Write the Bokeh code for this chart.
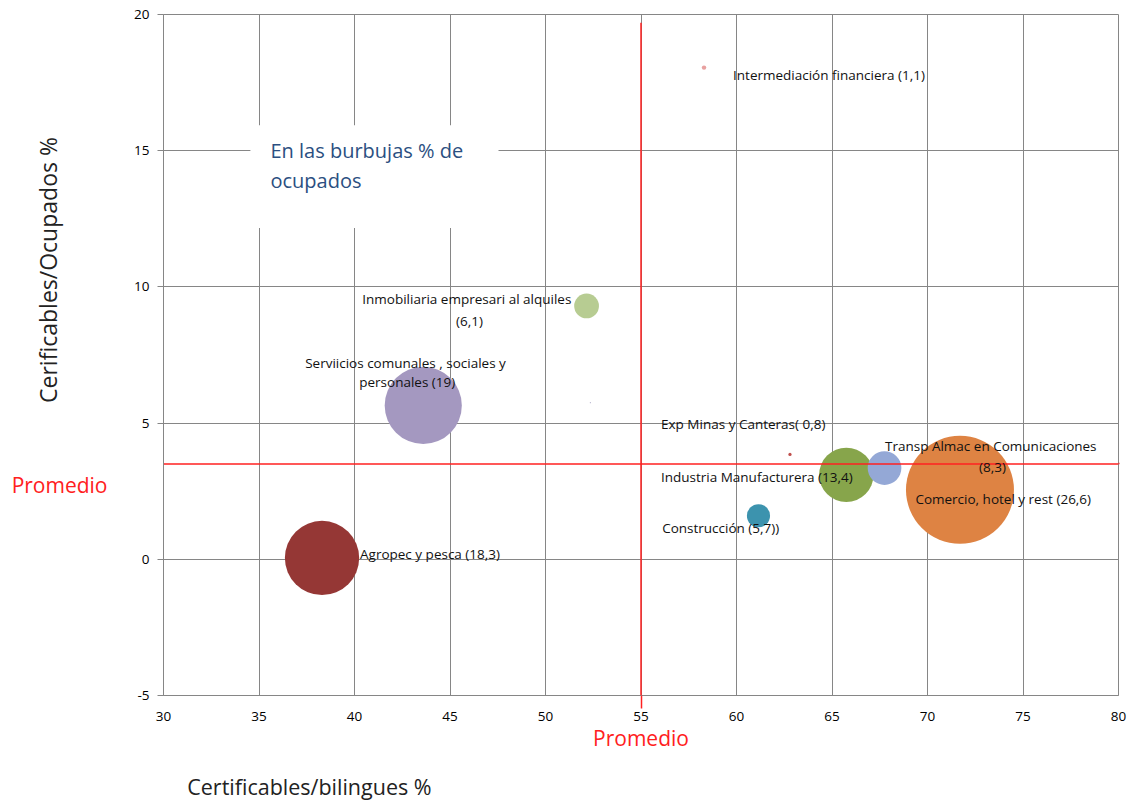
import math
from bokeh.plotting import figure
from bokeh.models import (ColumnDataSource, Label, BoxAnnotation, SingleIntervalTicker,
                          FixedTicker, LinearAxis)
from bokeh.core.properties import value
from bokeh.embed import file_html
from bokeh.resources import INLINE

# ---- data ----
sectors = ["Agropec y pesca", "Servicios comunales", "Inmobiliaria", "(sin etiqueta)",
           "Intermediación financiera", "Exp Minas y Canteras", "Industria Manufacturera",
           "Transp Almac en Comunicaciones", "Comercio, hotel y rest", "Construcción"]
cert_bilingues = [38.3, 43.6, 52.15, 52.35, 58.3, 62.8, 65.75, 67.75, 71.7, 61.15]
cert_ocupados = [0.05, 5.65, 9.3, 5.75, 18.05, 3.85, 3.1, 3.35, 2.55, 1.6]
pct_ocupados = [18.3, 19.0, 6.1, 0.3, 1.1, 0.8, 13.4, 8.3, 26.6, 5.7]
colors = ["#953735", "#A498C0", "#B7CC92", "#B4B2CC", "#E8A1A0", "#C0504D",
          "#87A54B", "#94A8D6", "#DE8343", "#3C93AE"]

promedio_x = 55
promedio_y = 3.5

x_title = "Certificables/bilingues %"
y_title = "Cerificables/Ocupados %"
promedio_text = "Promedio"
box_lines = ["En las burbujas % de", "ocupados"]

# label lines: (sector index, text, dx, dy, align)
label_lines = [
    (0, "Agropec y pesca (18,3)", 38, -4, "left"),
    (1, "Serviicios comunales  , sociales y", -16, -42, "center"),
    (1, "personales (19)", -16, -23, "center"),
    (2, "Inmobiliaria  empresari al alquiles", -118, -7, "center"),
    (2, "(6,1)", -117, 15, "center"),
    (4, "Intermediación  financiera (1,1)", 29, 7, "left"),
    (5, "Exp  Minas y Canteras( 0,8)", -45, -30, "center"),
    (6, "Industria   Manufacturera (13,4)", -86, 2, "center"),
    (7, "Transp  Almac en Comunicaciones", 108, -22, "center"),
    (7, "(8,3)", 108, -1, "center"),
    (8, "Comercio,  hotel y rest (26,6)", 45, 9, "center"),
    (9, "Construcción  (5,7))", -36, 12, "center"),
]

FONT = "Open Sans"
RED = "#FF2020"
GRAY = "#868686"
PX_PER_UNIT = 4.06  # bubble diameter in px per % ocupados

p = figure(width=1130, height=803, x_range=(30, 80), y_range=(-5, 20),
           output_backend="svg", toolbar_location=None,
           min_border_left=163, min_border_right=12, min_border_top=14, min_border_bottom=107)
p.background_fill_color = "white"
p.border_fill_color = "white"
p.outline_line_color = GRAY
p.outline_line_width = 1

for ax in (p.xaxis[0], p.yaxis[0]):
    ax.axis_line_color = GRAY
    ax.major_tick_line_color = GRAY
    ax.minor_tick_line_color = None
    ax.major_tick_in = 0
    ax.major_label_text_font = FONT
    ax.major_label_text_font_size = "13.5px"
    ax.major_label_text_color = "#000000"
p.xaxis[0].ticker = SingleIntervalTicker(interval=5)
p.yaxis[0].ticker = SingleIntervalTicker(interval=5)
p.yaxis[0].major_label_overrides = {-5: "-5"}
p.xaxis[0].major_tick_out = 0
p.xaxis[0].major_label_standoff = 12
p.yaxis[0].major_tick_out = 6
p.yaxis[0].major_label_standoff = 8

for g in (p.xgrid[0], p.ygrid[0]):
    g.grid_line_color = GRAY
    g.grid_line_width = 1
p.xgrid[0].ticker = SingleIntervalTicker(interval=5)
p.ygrid[0].ticker = SingleIntervalTicker(interval=5)


def bare_axis(ticks, overrides, size, color, standoff, orientation="horizontal"):
    ax = LinearAxis(ticker=FixedTicker(ticks=ticks), major_label_overrides=overrides)
    ax.axis_line_color = None
    ax.major_tick_line_color = None
    ax.minor_tick_line_color = None
    ax.major_tick_in = 0
    ax.major_tick_out = 0
    ax.major_label_text_font = FONT
    ax.major_label_text_font_size = size
    ax.major_label_text_color = color
    ax.major_label_standoff = standoff
    ax.major_label_orientation = orientation
    return ax


# left side: y title (vertical) then "Promedio"
ytitle_axis = bare_axis([10.62], {10.62: y_title}, "23px", "#222222", 67, "vertical")
p.add_layout(ytitle_axis, "left")
prom_left = bare_axis([2.73], {2.73: promedio_text}, "21px", RED, -78)
p.add_layout(prom_left, "left")

# below: "Promedio" under the average line, then x title
prom_below = bare_axis([promedio_x], {promedio_x: promedio_text}, "21px", RED, 0)
prom_below.major_tick_line_color = RED
prom_below.major_tick_line_width = 1.5
prom_below.major_tick_in = 28
prom_below.major_tick_out = -15
p.add_layout(prom_below, "below")
xtitle_axis = bare_axis([37.64], {37.64: x_title}, "21.5px", "#222222", 17)
p.add_layout(xtitle_axis, "below")

# right: short extension of the horizontal average line
prom_right = bare_axis([promedio_y], {promedio_y: ""}, "1px", RED, 0)
prom_right.major_tick_line_color = RED
prom_right.major_tick_line_width = 1.5
prom_right.major_tick_out = 1
p.add_layout(prom_right, "right")

src = ColumnDataSource(dict(x=cert_bilingues, y=cert_ocupados,
                            size=[v * PX_PER_UNIT for v in pct_ocupados], color=colors))
p.scatter("x", "y", size="size", fill_color="color", line_color=None, source=src)

# average lines
p.segment(x0=[promedio_x], y0=[19.7], x1=[promedio_x], y1=[-5], line_color=RED, line_width=1.5)
p.segment(x0=[30], y0=[promedio_y], x1=[80], y1=[promedio_y], line_color=RED, line_width=1.5)

# bubble labels
lsrc = ColumnDataSource(dict(
    x=[cert_bilingues[i] for i, *_ in label_lines],
    y=[cert_ocupados[i] for i, *_ in label_lines],
    text=[t for _, t, *_ in label_lines],
    dx=[d for _, _, d, _, _ in label_lines],
    dy=[d for _, _, _, d, _ in label_lines],
    align=[a for *_, a in label_lines],
))
p.text("x", "y", text="text", x_offset="dx", y_offset="dy", text_align="align",
       text_baseline="middle", text_font=value(FONT), text_font_size="13.5px",
       text_color="#111111", source=lsrc)

# text box
p.add_layout(BoxAnnotation(left=34.55, right=47.54, bottom=12.16, top=15.93,
                           fill_color="white", fill_alpha=1.0, line_color=None))
for txt, yy in zip(box_lines, (15.01, 13.9)):
    p.add_layout(Label(x=35.6, y=yy, text=txt, text_font=FONT, text_font_size="20px",
                       text_color="#2B4F81", text_baseline="middle", text_align="left"))

open("out.html", "w").write(file_html(p, INLINE))
